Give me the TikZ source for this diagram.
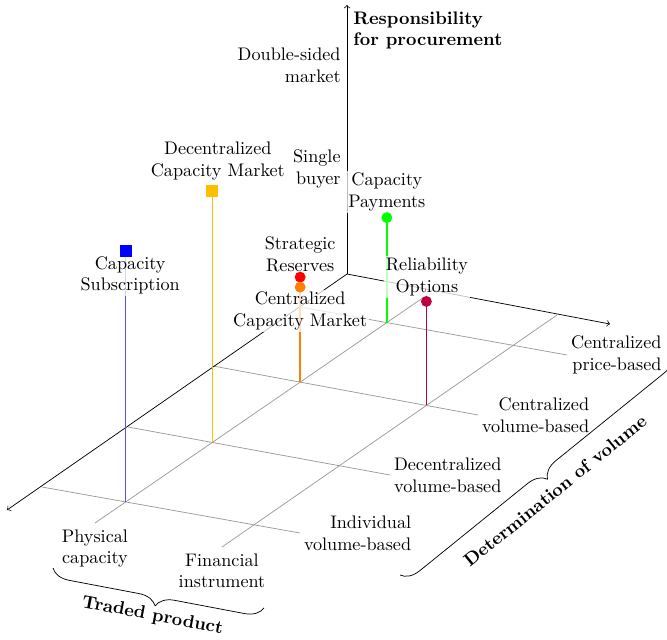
\documentclass[tikz,border=0pt]{standalone}
\usetikzlibrary{calc,decorations.pathreplacing}
\definecolor{mkBlue}{RGB}{0,0,255}
\definecolor{mkBlueStem}{RGB}{80,80,255}
\definecolor{mkAmber}{RGB}{255,191,0}
\definecolor{mkGreen}{RGB}{0,255,0}
\definecolor{mkRed}{RGB}{255,0,0}
\definecolor{mkOrange}{RGB}{255,128,0}
\definecolor{mkPurple}{RGB}{191,0,64}
\begin{document}
\begin{tikzpicture}[x=0.55pt, y=-0.55pt,
  gridline/.style={draw=gray!80, line width=0.4pt},
  axisline/.style={draw=black, line width=0.4pt, ->},
  stemline/.style={line width=0.75pt},
  boxmark/.style={rectangle, fill=#1, inner sep=0pt, minimum size=6.6pt},
  dotmark/.style={circle, fill=#1, inner sep=0pt, minimum size=6pt},
  marklabel/.style={align=center, fill=white, fill opacity=0.75, text opacity=1,
                    inner xsep=1pt, inner ysep=1pt},
  catlabel/.style={align=right, inner sep=2pt},
  axistitle/.style={font=\bfseries},
  bracepath/.style={decorate, decoration={brace, amplitude=10pt, mirror}, line width=0.4pt}
]
\useasboundingbox (0,0) rectangle (667,639);
\clip (0,0) rectangle (667,639);

% axis origin, axis tips and levels of the vertical axis
\coordinate (O) at (347,274);
\coordinate (xEnd) at (7,510);
\coordinate (yEnd) at (610,324);
\coordinate (zEnd) at (347,5);
\coordinate (zOne) at (347,169);
\coordinate (zTwo) at (347,65);

% ground lines: one per determination of volume
\coordinate (a1) at (300,307); \coordinate (b1) at (567,355);
\coordinate (a2) at (213,366); \coordinate (b2) at (478,415);
\coordinate (a3) at (128,427); \coordinate (b3) at (390,475);
\coordinate (a4) at (42,487);  \coordinate (b4) at (300,533);
% ground lines: one per traded product
\coordinate (pA) at (427,295); \coordinate (pB) at (95,523);
\coordinate (fA) at (557,315); \coordinate (fB) at (222,547);

\foreach \i in {1,...,4} \draw[gridline] (a\i) -- (b\i);
\draw[gridline] (pA) -- (pB);
\draw[gridline] (fA) -- (fB);

\draw[axisline] (O) -- (xEnd);
\draw[axisline] (O) -- (yEnd);
\draw[axisline] (O) -- (zEnd);

% feet of the stems on the ground grid
\coordinate (sBlue)   at (intersection of a4--b4 and pA--pB);
\coordinate (sAmber)  at (intersection of a3--b3 and pA--pB);
\coordinate (sOrange) at (intersection of a2--b2 and pA--pB);
\coordinate (sGreen)  at (intersection of a1--b1 and pA--pB);
\coordinate (sPurple) at (intersection of a2--b2 and fA--fB);

% tops of the stems
\coordinate (tBlue)   at ($(sBlue)+(0,-251)$);
\coordinate (tAmber)  at ($(sAmber)+(0,-251)$);
\coordinate (tRed)    at ($(sOrange)+(0,-105)$);
\coordinate (tOrange) at ($(sOrange)+(0,-95)$);
\coordinate (tGreen)  at ($(sGreen)+(0,-105)$);
\coordinate (tPurple) at ($(sPurple)+(0,-104)$);

% stems
\draw[stemline, mkBlueStem] (sBlue) -- (tBlue);
\draw[stemline, mkAmber] (sAmber) -- (tAmber);
\draw[stemline, mkRed] (sOrange) -- (tRed);
\draw[stemline, mkOrange] (sOrange) -- (tOrange);
\draw[stemline, mkGreen] (sGreen) -- (tGreen);
\draw[stemline, mkPurple] (sPurple) -- (tPurple);

% mechanism names
\node[marklabel] (lBlue)   at ($(tBlue)+(4.5,24.5)$)  {Capacity\\Subscription};
\node[marklabel] (lAmber)  at ($(tAmber)+(5.5,-30)$)  {Decentralized\\Capacity Market};
\node[marklabel] (lRed)    at ($(tRed)+(0,-22.5)$)    {Strategic\\Reserves};
\node[marklabel] (lOrange) at ($(tOrange)+(0,24)$)    {Centralized\\Capacity Market};
\node[marklabel] (lGreen)  at ($(tGreen)+(0,-25.5)$)  {Capacity\\Payments};
\node[marklabel] (lPurple) at ($(tPurple)+(0.5,-24.5)$) {Reliability\\Options};

% markers
\node[boxmark=mkBlue]   (mBlue)   at (tBlue) {};
\node[boxmark=mkAmber]  (mAmber)  at (tAmber) {};
\node[dotmark=mkRed]    (mRed)    at (tRed) {};
\node[dotmark=mkOrange] (mOrange) at (tOrange) {};
\node[dotmark=mkGreen]  (mGreen)  at (tGreen) {};
\node[dotmark=mkPurple] (mPurple) at (tPurple) {};

% vertical axis
\node[anchor=east, align=right] (vTwo) at (zTwo) {Double-sided\\market};
\node[anchor=east, align=right] (vOne) at (zOne) {Single\\buyer};
\node[axistitle, anchor=north west, align=left] (ttlZ) at (zEnd) {Responsibility\\for procurement};

% determination of volume
\node[catlabel, anchor=west] (c1) at (b1) {Centralized\\price-based};
\node[catlabel, anchor=west] (c2) at (b2) {Centralized\\volume-based};
\node[catlabel, anchor=west] (c3) at (b3) {Decentralized\\volume-based};
\node[catlabel, anchor=west] (c4) at (b4) {Individual\\volume-based};

% traded product
\node[anchor=north, align=center] (t1) at (pB) {Physical\\capacity};
\node[anchor=north, align=center] (t2) at (fB) {Financial\\instrument};

% braces with axis titles
\coordinate (tpA) at (53,568); \coordinate (tpB) at (264,608);
\draw[bracepath] (tpA) -- (tpB);
\node[axistitle, rotate=-10.8] (ttlTP) at (152.5,616) {Traded product};

\coordinate (dvA) at (400,575); \coordinate (dvB) at (672,355);
\draw[bracepath] (dvA) -- (dvB);
\node[axistitle, rotate=39] (ttlDV) at (555,491) {Determination of volume};
\end{tikzpicture}
\end{document}
